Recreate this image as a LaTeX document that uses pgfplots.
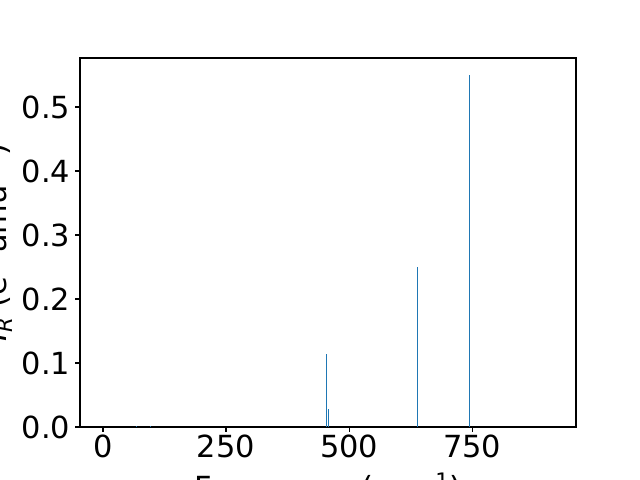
\documentclass[border=0pt]{standalone}
\usepackage{pgfplots}
\pgfplotsset{compat=1.18}
\usepackage{fontspec}
\setmainfont{DejaVu Sans}
\definecolor{mplblue}{HTML}{1F77B4}
\begin{document}
\begin{tikzpicture}
\path[use as bounding box] (0,0) rectangle (6.4in,4.8in);
\begin{axis}[
  at={(0.8in,0.53in)}, anchor=south west,
  width=4.96in, height=3.69in, scale only axis,
  xmin=-46.7, xmax=961, ymin=0, ymax=0.5766,
  xtick={0,250,500,750}, ytick={0,0.1,0.2,0.3,0.4,0.5},
  yticklabel style={/pgf/number format/.cd,fixed,fixed zerofill,precision=1},
  /pgf/number format/assume math mode=true,
  tick align=outside, tick pos=left,
  major tick length=3.5pt,
  tick style={black, line width=0.8pt},
  axis line style={line width=0.8pt},
  ticklabel style={font=\fontsize{22}{26}\selectfont},
  label style={font=\fontsize{22}{26}\selectfont},
  xticklabel style={yshift=1pt},
  xlabel={Frequency (cm\textsuperscript{$-$1})},
  ylabel={{\itshape I}\textsubscript{\itshape R} (e\textsuperscript{2} amu\textsuperscript{$-$1})},
  xlabel style={yshift=-3.5pt},
  ylabel style={yshift=0pt},
]
\addplot[ycomb, mplblue, line width=0.75pt, mark=none] coordinates {
 (67.7,0.0015) (96.1,0.0015) (453.9,0.114) (458.0,0.028) (638.8,0.250) (744.5,0.550)
};
\end{axis}
\end{tikzpicture}
\end{document}
